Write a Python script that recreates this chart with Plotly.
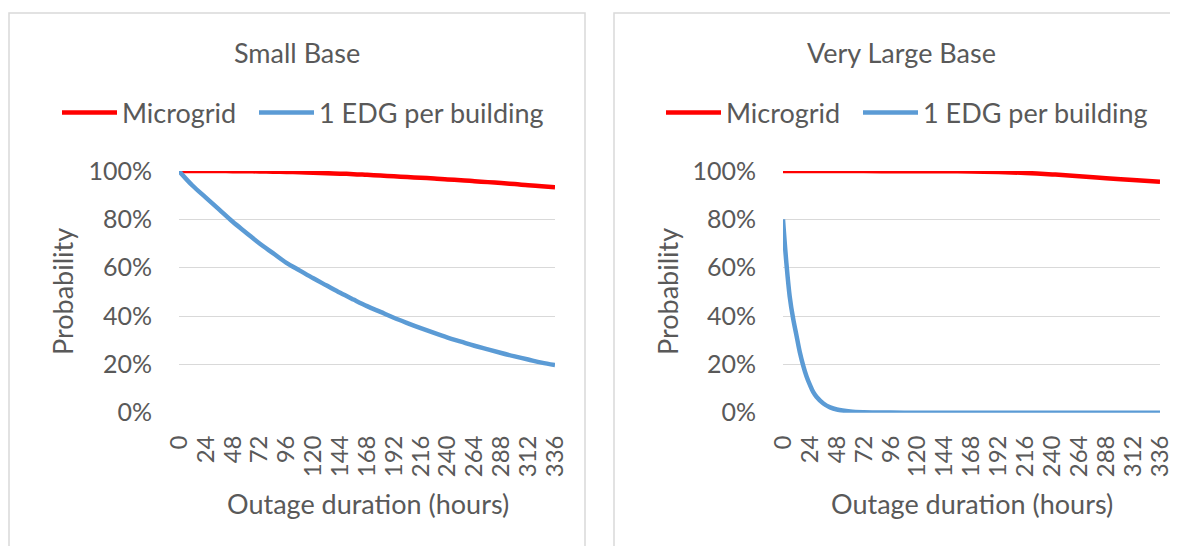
import plotly.graph_objects as go

# outage duration (hours)
hours_small = [0, 12, 24, 36, 48, 60, 72, 84, 96, 108, 120, 132, 144, 156, 168, 180,
               192, 204, 216, 228, 240, 252, 264, 276, 288, 300, 312, 324, 336]
microgrid_small = [1.000, 1.000, 1.000, 1.000, 0.999, 0.999, 0.998, 0.997, 0.996, 0.995,
                   0.993, 0.991, 0.989, 0.987, 0.984, 0.981, 0.978, 0.975, 0.972, 0.969,
                   0.965, 0.962, 0.958, 0.954, 0.950, 0.946, 0.941, 0.937, 0.933]
edg_small = [1.000, 0.940, 0.890, 0.840, 0.790, 0.745, 0.700, 0.660, 0.620, 0.588,
             0.556, 0.526, 0.496, 0.468, 0.441, 0.417, 0.393, 0.371, 0.350, 0.330,
             0.311, 0.294, 0.277, 0.262, 0.247, 0.233, 0.220, 0.207, 0.197]

hours_large = [0, 3, 6, 9, 12, 15, 18, 21, 24, 27, 30, 36, 42, 48, 60, 72, 96, 120,
               144, 168, 192, 216, 240, 264, 288, 312, 336]
microgrid_large = [1.000, 1.000, 1.000, 1.000, 1.000, 1.000, 1.000, 1.000, 1.000, 1.000,
                   1.000, 1.000, 1.000, 1.000, 1.000, 1.000, 0.999, 0.999, 0.999, 0.998,
                   0.996, 0.992, 0.986, 0.978, 0.970, 0.963, 0.956]
edg_large = [0.800, 0.620, 0.480, 0.390, 0.320, 0.250, 0.195, 0.150, 0.115, 0.085,
             0.065, 0.038, 0.022, 0.013, 0.005, 0.002, 0.0005, 0, 0, 0, 0, 0, 0, 0, 0, 0, 0]

x_ticks = list(range(0, 337, 24))
y_ticks = [0, 0.2, 0.4, 0.6, 0.8, 1.0]

RED = "#ff0000"
BLUE = "#5b9bd5"
GREY = "#595959"
GRID = "#d9d9d9"
FONT = "Lato"
TXT = 27
W, H = 1170, 538   # page body adds an 8px margin
OFF = 8


def px(x):
    return (x - OFF) / W


def py(y):
    return 1 - (y - OFF) / H


fig = go.Figure()
# one legend per entry so the spacing can follow the original
for name, xs, ys, col, ax, lg in [
    ("Microgrid", hours_small, microgrid_small, RED, "x", "legend"),
    ("1 EDG per building", hours_small, edg_small, BLUE, "x", "legend2"),
    ("Microgrid", hours_large, microgrid_large, RED, "x2", "legend3"),
    ("1 EDG per building", hours_large, edg_large, BLUE, "x2", "legend4"),
]:
    fig.add_trace(go.Scatter(
        x=xs, y=ys, mode="lines", name=name, showlegend=True,
        line=dict(color=col, width=4.5, shape="spline"),
        xaxis=ax, yaxis=ax.replace("x", "y"), legend=lg,
    ))

axis_common = dict(showline=False, zeroline=False, ticks="", automargin=False)
xcommon = dict(axis_common, range=[0, 336], tickvals=x_ticks, tickangle=-90,
               showgrid=False, ticklabelstandoff=17,
               tickfont=dict(family=FONT, size=24, color=GREY))
ycommon = dict(axis_common, range=[0, 1], tickvals=y_ticks, tickformat=".0%",
               showgrid=True, gridcolor=GRID, gridwidth=1.2, ticklabelstandoff=26,
               tickfont=dict(family=FONT, size=25, color=GREY))

legend_common = dict(orientation="h", yanchor="middle", xanchor="left", y=py(113),
                     font=dict(family=FONT, size=TXT, color=GREY), itemwidth=55,
                     bgcolor="rgba(0,0,0,0)", borderwidth=0)

y_dom = [py(412.7), py(171)]
fig.update_layout(
    width=W, height=H, autosize=False, showlegend=True,
    margin=dict(l=0, r=0, t=0, b=0, pad=0, autoexpand=False),
    paper_bgcolor="white", plot_bgcolor="white",
    font=dict(family=FONT, color=GREY),
    xaxis=dict(xcommon, domain=[px(179), px(555)], anchor="y"),
    yaxis=dict(ycommon, domain=y_dom, anchor="x"),
    xaxis2=dict(xcommon, domain=[px(783), px(1160)], anchor="y2"),
    yaxis2=dict(ycommon, domain=y_dom, anchor="x2"),
    legend=dict(legend_common, x=px(57)),
    legend2=dict(legend_common, x=px(254)),
    legend3=dict(legend_common, x=px(661)),
    legend4=dict(legend_common, x=px(858)),
    shapes=[
        dict(type="rect", xref="paper", yref="paper", x0=px(9), x1=px(585),
             y0=-0.05, y1=py(13), line=dict(color=GRID, width=1.5)),
        dict(type="rect", xref="paper", yref="paper", x0=px(614), x1=1.05,
             y0=-0.05, y1=py(13), line=dict(color=GRID, width=1.5)),
    ],
)

annots = [
    ("Small Base", 297, 53, 0),
    ("Very Large Base", 902, 53, 0),
    ("Probability", 62, 292, -90),
    ("Probability", 667, 292, -90),
    ("Outage duration (hours)", 368, 503, 0),
    ("Outage duration (hours)", 972, 503, 0),
]
for text, x, y, ang in annots:
    fig.add_annotation(text=text, x=px(x), y=py(y), xref="paper", yref="paper",
                       showarrow=False, textangle=ang, xanchor="center", yanchor="middle",
                       font=dict(family=FONT, size=TXT, color=GREY))

fig.write_html("out.html")
